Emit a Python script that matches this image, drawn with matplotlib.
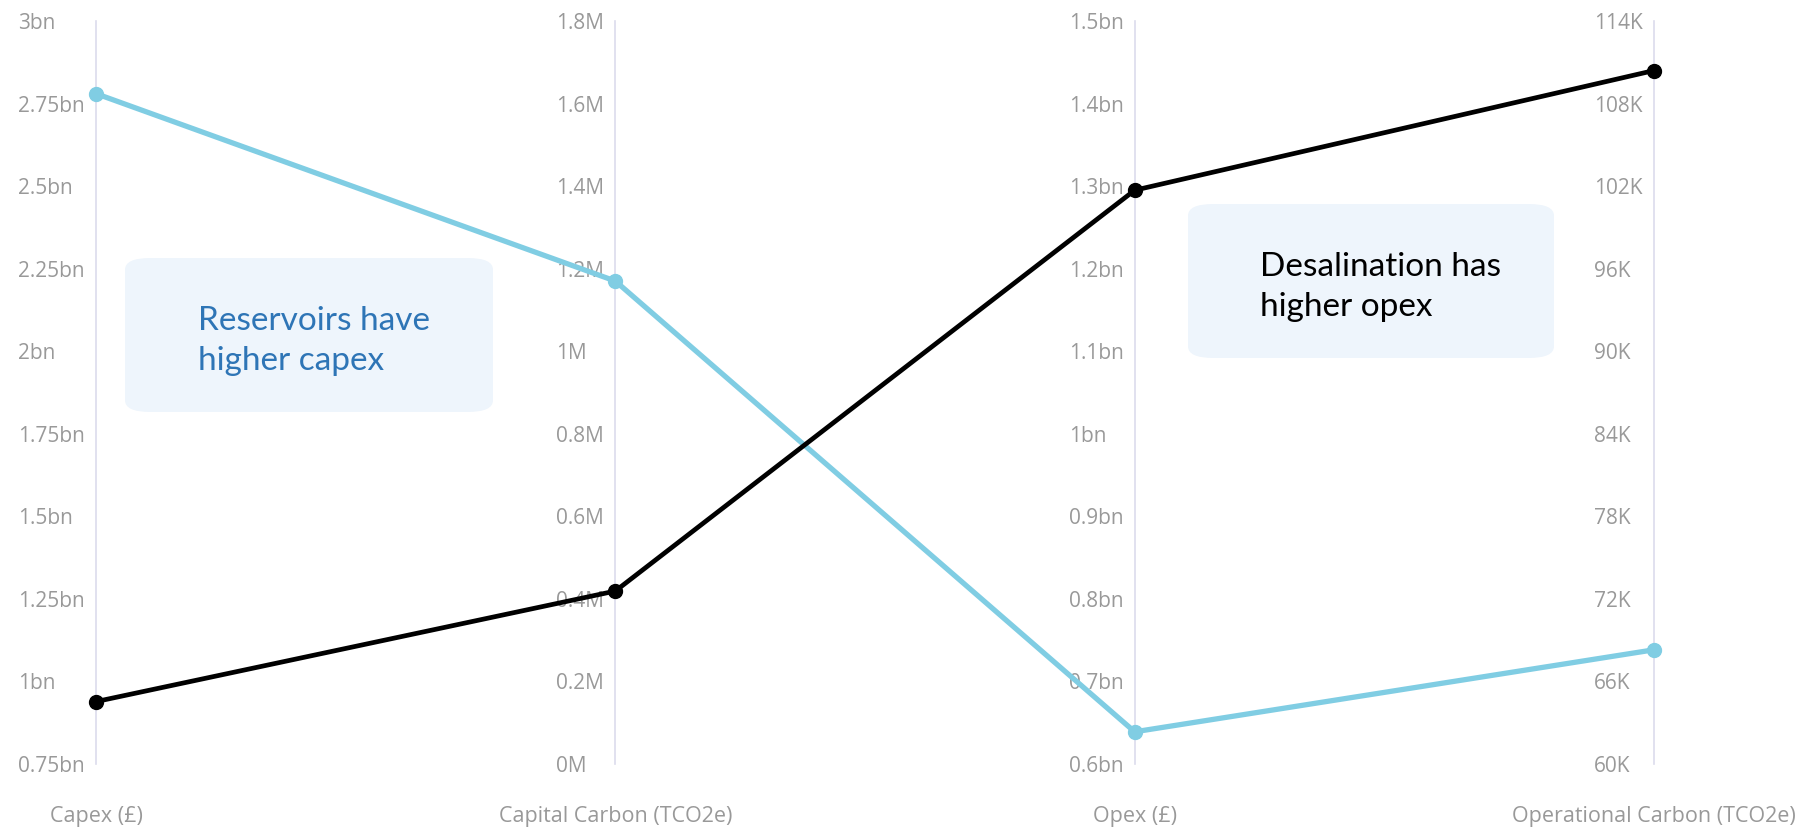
import matplotlib
matplotlib.use("Agg")
import matplotlib.pyplot as plt
from matplotlib.patches import FancyBboxPatch

# ---------------- data ----------------
dimensions = ["Capex (£)", "Capital Carbon (TCO2e)", "Opex (£)", "Operational Carbon (TCO2e)"]
series_names = ["Reservoirs", "Desalination"]
reservoirs = [2.78e9, 1.17e6, 0.639e9, 68.3e3]
desalination = [0.939e9, 0.419e6, 1.295e9, 110.4e3]

capex_ticks = [0.75e9, 1.0e9, 1.25e9, 1.5e9, 1.75e9, 2.0e9, 2.25e9, 2.5e9, 2.75e9, 3.0e9]
capex_labels = ["0.75bn", "1bn", "1.25bn", "1.5bn", "1.75bn", "2bn", "2.25bn", "2.5bn", "2.75bn", "3bn"]
capcarbon_ticks = [0, 0.2e6, 0.4e6, 0.6e6, 0.8e6, 1.0e6, 1.2e6, 1.4e6, 1.6e6, 1.8e6]
capcarbon_labels = ["0M", "0.2M", "0.4M", "0.6M", "0.8M", "1M", "1.2M", "1.4M", "1.6M", "1.8M"]
opex_ticks = [0.6e9, 0.7e9, 0.8e9, 0.9e9, 1.0e9, 1.1e9, 1.2e9, 1.3e9, 1.4e9, 1.5e9]
opex_labels = ["0.6bn", "0.7bn", "0.8bn", "0.9bn", "1bn", "1.1bn", "1.2bn", "1.3bn", "1.4bn", "1.5bn"]
opcarbon_ticks = [60e3, 66e3, 72e3, 78e3, 84e3, 90e3, 96e3, 102e3, 108e3, 114e3]
opcarbon_labels = ["60K", "66K", "72K", "78K", "84K", "90K", "96K", "102K", "108K", "114K"]

annotations = ["Reservoirs have\nhigher capex", "Desalination has\nhigher opex"]

# ---------------- style ----------------
W, H = 1814, 830
DPI = 100
fig = plt.figure(figsize=(W / DPI, H / DPI), dpi=DPI)
fig.patch.set_facecolor("white")

left_px, right_px, top_px, bottom_px = 96, 1654, 21, 764
host = fig.add_axes([left_px / W, 1 - bottom_px / H, (right_px - left_px) / W, (bottom_px - top_px) / H])
host.set_xlim(0, len(dimensions) - 1)
host.set_ylim(0, 1)

tick_sets = [(capex_ticks, capex_labels), (capcarbon_ticks, capcarbon_labels),
             (opex_ticks, opex_labels), (opcarbon_ticks, opcarbon_labels)]
axis_color = "#dcdcec"
tick_color = "#999999"
tick_font = "Open Sans"
tick_size = 15
cat_size = 15.5

twins = []
for i, (ticks, labels) in enumerate(tick_sets):
    tw = host.twinx()
    tw.set_ylim(ticks[0], ticks[-1])
    tw.yaxis.tick_left()
    for s in ["top", "bottom", "right"]:
        tw.spines[s].set_visible(False)
    tw.spines["left"].set_visible(True)
    tw.spines["left"].set_position(("data", i))
    tw.spines["left"].set_color(axis_color)
    tw.spines["left"].set_linewidth(1.2)
    tw.set_yticks(ticks)
    tw.set_yticklabels(labels, fontfamily=tick_font, fontsize=tick_size, color=tick_color)
    tw.tick_params(axis="y", length=0, pad=8)
    twins.append(tw)

for s in host.spines.values():
    s.set_visible(False)
host.set_yticks([])
host.set_xticks(range(len(dimensions)))
host.set_xticklabels(dimensions, fontfamily=tick_font, fontsize=cat_size, color=tick_color)
host.tick_params(axis="x", length=0, pad=30)
host.set_zorder(10)
host.patch.set_visible(False)

# left-align tick labels in a column ending ~11px left of each axis
fig.canvas.draw()
renderer = fig.canvas.get_renderer()
gap_pt = 11 * 72 / DPI
for tw in twins:
    labs = tw.get_yticklabels()
    maxw_px = max(l.get_window_extent(renderer).width for l in labs)
    tw.tick_params(axis="y", pad=maxw_px * 72 / DPI + gap_pt)
    for l in tw.get_yticklabels():
        l.set_horizontalalignment("left")

mins = [t[0][0] for t in tick_sets]
maxs = [t[0][-1] for t in tick_sets]

def norm(vals):
    return [(v - lo) / (hi - lo) for v, lo, hi in zip(vals, mins, maxs)]

xs = list(range(len(dimensions)))
host.plot(xs, norm(reservoirs), color="#80cde3", lw=3.8, marker="o", ms=10,
          clip_on=False, solid_capstyle="round", label=series_names[0], zorder=3)
host.plot(xs, norm(desalination), color="black", lw=3.4, marker="o", ms=10,
          clip_on=False, solid_capstyle="round", label=series_names[1], zorder=4)

# annotation boxes (pixel coordinates from top-left)
def add_box(x0, y0, x1, y1):
    p = FancyBboxPatch((x0 / W, 1 - y1 / H), (x1 - x0) / W, (y1 - y0) / H,
                       boxstyle="round,pad=0,rounding_size=0.014",
                       transform=fig.transFigure, facecolor="#eef5fc",
                       edgecolor="none", zorder=0)
    fig.patches.append(p)

add_box(125, 258, 493, 412)
add_box(1188, 204, 1554, 358)

fig.text(198 / W, 1 - 370 / H, annotations[0], fontfamily="Lato", fontsize=24,
         color="#2e75b6", ha="left", va="baseline", linespacing=1.4, zorder=1)
fig.text(1260 / W, 1 - 316 / H, annotations[1], fontfamily="Lato", fontsize=24,
         color="black", ha="left", va="baseline", linespacing=1.4, zorder=1)

fig.savefig("out.png", dpi=DPI, facecolor="white")
